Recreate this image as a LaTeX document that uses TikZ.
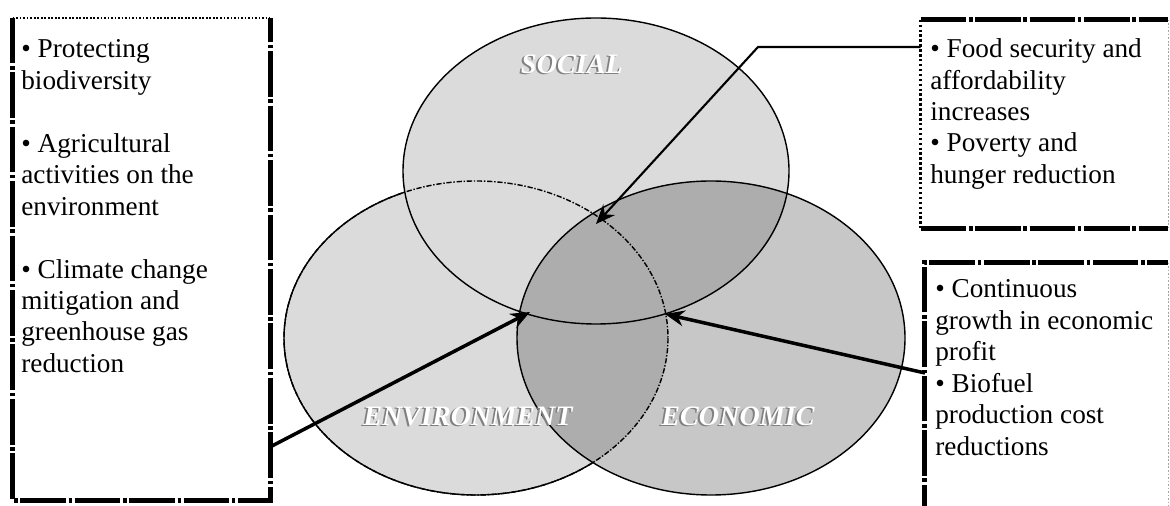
\documentclass[tikz,border=0pt]{standalone}
\usepackage{fontspec}
\setmainfont{Liberation Serif}
\usetikzlibrary{positioning, arrows.meta}

\definecolor{lightfill}{gray}{0.86}
\definecolor{econfill}{gray}{0.78}
\definecolor{corefill}{gray}{0.68}

\tikzset{
  thickdash/.style={line width=3pt, dash pattern=on 26pt off 1.5pt on 2pt off 1.5pt},
  dotline/.style={line width=1.8pt, dash pattern=on 1.4pt off 1.4pt},
  finedot/.style={line width=1pt, dash pattern=on 1pt off 1pt},
  thindot/.style={gray!70, line width=0.5pt, dash pattern=on 1pt off 1pt},
  boxtext/.style={align=left, inner sep=0pt, anchor=north west,
    font=\fontsize{15.5}{17.9}\selectfont},
  ringname/.style={inner sep=0pt, text=white,
    font=\fontsize{16}{16}\selectfont\bfseries\itshape},
  ringshade/.style={ringname, text=gray},
  ringline/.style={line width=0.8pt},
  pointer/.style={line width=2pt, -{Stealth[length=11pt, width=9pt]}},
}

\begin{document}
\begin{tikzpicture}[x=0.02cm, y=-0.02cm]
	\useasboundingbox (0,0) rectangle (1170,506);
	% rings
	\fill[lightfill] (476,338) ellipse [x radius=192, y radius=157];
	\fill[lightfill] (596,171) ellipse [x radius=193, y radius=153];
	\fill[econfill] (711,338) ellipse [x radius=194, y radius=157];
	\begin{scope}
		\clip (711,338) ellipse [x radius=194, y radius=157];
		\fill[corefill] (476,338) ellipse [x radius=192, y radius=157];
		\fill[corefill] (596,171) ellipse [x radius=193, y radius=153];
	\end{scope}
	% outlines
	\draw[ringline, densely dashdotted] (476,338) ellipse [x radius=192, y radius=157];
	\draw[ringline] (596,171) ellipse [x radius=193, y radius=153];
	\draw[ringline] (711,338) ellipse [x radius=194, y radius=157];
	\begin{scope}[even odd rule]
		\clip (0,0) rectangle (1170,506) (596,171) ellipse [x radius=193, y radius=153];
		\clip (0,0) rectangle (1170,506) (711,338) ellipse [x radius=194, y radius=157];
		\draw[ringline] (476,338) ellipse [x radius=192, y radius=157];
	\end{scope}
	% ring names
	\node[ringshade] (socialshade) at (570,65.5) {SOCIAL};
	\node[ringname] (social) at (572,64) {SOCIAL};
	\node[ringshade] (envshade) at (466,417.5) {ENVIRONMENT};
	\node[ringname] (env) at (468,416) {ENVIRONMENT};
	\node[ringshade] (ecoshade) at (736,417.5) {ECONOMIC};
	\node[ringname] (eco) at (738,416) {ECONOMIC};

	% left box
	\node[minimum width=5.14cm, minimum height=9.64cm, inner sep=0pt] (envbox) at (141.5,259) {};
	\draw[finedot] (envbox.north west) -- (envbox.north east);
	\draw[thickdash] (envbox.north west) -- (envbox.south west) -- (envbox.south east) -- (envbox.north east);
	\node[boxtext] (envtext) at (21,39.5) {\textbullet{} Protecting\\biodiversity\\[17.9pt]
		\textbullet{} Agricultural\\activities on the\\environment\\[17.9pt]
		\textbullet{} Climate change\\mitigation and\\greenhouse gas\\reduction};

	% top right box
	\node[minimum width=4.94cm, minimum height=4.16cm, inner sep=0pt] (socbox) at (1044.5,124) {};
	\draw[thickdash] (socbox.north west) -- (socbox.north east);
	\draw[thickdash] (socbox.south west) -- (socbox.south east);
	\draw[dotline] (socbox.north west) -- (socbox.south west);
	\draw[thindot] (socbox.north east) -- (socbox.south east);
	\node[boxtext] (soctext) at (930,38.4) {\textbullet{} Food security and\\affordability\\increases\\
		\textbullet{} Poverty and\\hunger reduction};

	% bottom right box
	\node[minimum width=4.86cm, minimum height=5.34cm, inner sep=0pt] (ecobox) at (1046.5,396.5) {};
	\draw[thickdash] (ecobox.south west) -- (ecobox.north west) -- (ecobox.north east);
	\draw[thindot] (ecobox.north east) -- (ecobox.south east);
	\node[boxtext] (ecotext) at (935,279.4) {\textbullet{} Continuous\\growth in economic\\profit\\
		\textbullet{} Biofuel\\production cost\\reductions};

	% pointers
	\coordinate (foodbend) at (758,47);
	\coordinate (coretip) at (596,224);
	\coordinate (envfoot) at (270,447);
	\coordinate (envtip) at (530,312);
	\coordinate (ecofoot) at (925,373);
	\coordinate (ecotip) at (665,314);
	\draw[pointer, line width=1.2pt] (socbox.west |- foodbend) -- (foodbend) -- (coretip);
	\draw[pointer] (envfoot) -- (envtip);
	\draw[pointer] (ecofoot) -- (ecotip);
\end{tikzpicture}
\end{document}
